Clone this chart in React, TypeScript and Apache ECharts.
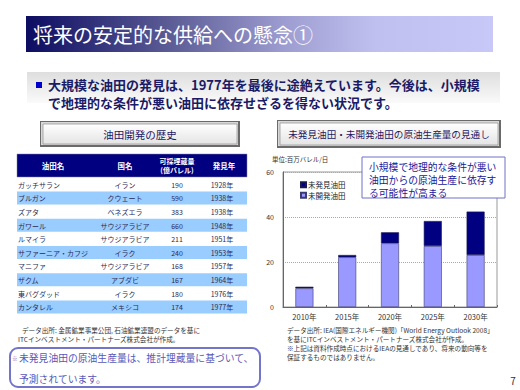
import React, { useEffect, useRef } from "react";
import * as echarts from "echarts";

const FF = '"Noto Sans CJK JP", "Noto Sans", sans-serif';

const categories = ["2010年", "2015年", "2020年", "2025年", "2030年"];
const undevelopedFields = [8.3, 22.1, 28.3, 27.1, 23.1]; // 未開発油田
const undiscoveredFields = [0.7, 1.0, 4.9, 11.1, 19.3]; // 未発見油田
const yTicks = [0, 20, 40, 60];

const fieldNames = ["ガッチサラン", "ブルガン", "ズアタ", "ガワール", "ルマイラ", "サファーニア・カフジ", "マニファ", "ザクム", "東バグダッド", "カンタレル"];
const countries = ["イラン", "クウェート", "ベネズエラ", "サウジアラビア", "サウジアラビア", "イラク", "サウジアラビア", "アブダビ", "イラク", "メキシコ"];
const reserves = [190, 590, 383, 660, 211, 240, 168, 167, 180, 174];
const discoveryYears = ["1928年", "1938年", "1938年", "1948年", "1951年", "1953年", "1957年", "1964年", "1976年", "1977年"];

function txt(text: string, x: number, y: number, size: number, fill: string, extra: any = {}, z = 5): any {
  return {
    type: "text",
    z,
    style: { text, x, y, fontSize: size, fontFamily: FF, fill, align: "left", verticalAlign: "middle", lineHeight: size, ...extra },
  };
}

function bevelBox(x: number, y: number, w: number, h: number): any[] {
  return [
    { type: "rect", z: 1, shape: { x, y, width: w, height: h }, style: { fill: "#6a6a6a" } },
    { type: "rect", z: 1, shape: { x: x + 1, y: y + 1, width: w - 3, height: h - 3 }, style: { fill: "#d8d8d8" } },
    {
      type: "rect", z: 1,
      shape: { x: x + 3, y: y + 3, width: w - 6, height: h - 6 },
      style: {
        fill: { type: "linear", x: 0, y: 0, x2: 0, y2: 1, colorStops: [{ offset: 0, color: "#ffffff" }, { offset: 1, color: "#e4e4e4" }] },
        stroke: "#9a9a9a", lineWidth: 0.8,
      },
    },
  ];
}

export default function App() {
  const ref = useRef<HTMLDivElement>(null);
  useEffect(() => {
    if (!ref.current) return;
    const chart = echarts.init(ref.current, null, { renderer: "svg" });

    const g: any[] = [];
    // Title bar
    g.push({
      type: "rect", z: 1,
      shape: { x: 26, y: 16, width: 467, height: 36 },
      style: {
        fill: {
          type: "linear", x: 0, y: 0, x2: 1, y2: 0,
          colorStops: [
            { offset: 0, color: "#0c0c62" },
            { offset: 0.3, color: "#5a5a94" },
            { offset: 0.55, color: "#9c9cd0" },
            { offset: 0.75, color: "#c0c0f0" },
            { offset: 1, color: "#c8c8f8" },
          ],
        },
      },
    });
    g.push(txt("将来の安定的な供給への懸念①", 33, 34, 20, "#ffffff"));

    // Subtitle band
    g.push({
      type: "rect", z: 1,
      shape: { x: 27, y: 72, width: 473, height: 31 },
      style: {
        fill: { type: "linear", x: 0, y: 0, x2: 0, y2: 1, colorStops: [{ offset: 0, color: "#dedede" }, { offset: 1, color: "#fafafa" }] },
      },
    });
    g.push({ type: "rect", z: 2, shape: { x: 36, y: 82, width: 6, height: 6 }, style: { fill: "#0000cc" } });
    g.push(txt("大規模な油田の発見は、1977年を最後に途絶えています。今後は、小規模", 48, 84.5, 13, "#1a1a66", { fontWeight: "bold" }));
    g.push(txt("で地理的な条件が悪い油田に依存せざるを得ない状況です。", 48, 102.5, 13, "#1a1a66", { fontWeight: "bold" }));

    // Table title
    g.push(...bevelBox(40, 121, 200, 26));
    g.push(txt("油田開発の歴史", 140, 134, 10.5, "#1a1a66", { align: "center" }));

    // Table header
    const tX = 17, tW = 230, hTop = 154, hH = 23, rowH = 13.6;
    const colCenters = [53, 125, 177, 224];
    g.push({ type: "rect", z: 2, shape: { x: tX, y: hTop, width: tW, height: hH }, style: { fill: "#000080", stroke: "#8080a0", lineWidth: 0.5 } });
    g.push(txt("油田名", colCenters[0], hTop + hH / 2, 7.5, "#ffffff", { align: "center", fontWeight: "bold" }));
    g.push(txt("国名", colCenters[1], hTop + hH / 2, 7.5, "#ffffff", { align: "center", fontWeight: "bold" }));
    g.push(txt("可採埋蔵量", colCenters[2], hTop + 7, 7, "#ffffff", { align: "center", fontWeight: "bold" }));
    g.push(txt("(億バレル)", colCenters[2], hTop + 16, 7, "#ffffff", { align: "center", fontWeight: "bold" }));
    g.push(txt("発見年", colCenters[3], hTop + hH / 2, 7.5, "#ffffff", { align: "center", fontWeight: "bold" }));

    fieldNames.forEach((name, i) => {
      const top = hTop + hH + 1 + i * rowH;
      const cy = top + rowH / 2;
      if (i % 2 === 1) {
        g.push({ type: "rect", z: 2, shape: { x: tX, y: top, width: tW, height: rowH - 0.6 }, style: { fill: "#99ccff" } });
      }
      g.push(txt(name, 18, cy, 7, "#2a2a55"));
      g.push(txt(countries[i], colCenters[1], cy, 7, "#2a2a55", { align: "center" }));
      g.push(txt(String(reserves[i]), colCenters[2], cy, 7, "#2a2a55", { align: "center" }));
      g.push(txt(discoveryYears[i], colCenters[3] - 2, cy, 7, "#2a2a55", { align: "center" }));
    });

    // Left sources
    g.push(txt("データ出所: 金属鉱業事業公団, 石油鉱業連盟のデータを基に", 22, 330, 6.6, "#333333"));
    g.push(txt("ITCインベストメント・パートナーズ株式会社が作成。", 18, 339, 6.6, "#333333"));

    // Note box
    g.push({ type: "rect", z: 2, shape: { x: 10, y: 348, width: 250, height: 39, r: 8 }, style: { fill: "#ffffff", stroke: "#7474cc", lineWidth: 2 } });
    g.push(txt("※", 12, 359, 5.5, "#5858b8"));
    g.push(txt("未発見油田の原油生産量は、推計埋蔵量に基づいて、", 19, 358, 9.8, "#5858b8"));
    g.push(txt("予測されています。", 19, 379, 9.8, "#5858b8"));

    // Chart title
    g.push(...bevelBox(277, 120, 224, 28));
    g.push(txt("未発見油田・未開発油田の原油生産量の見通し", 389, 134, 9.6, "#1a1a66", { align: "center" }));
    g.push(txt("単位:百万バレル/日", 272, 159, 6.5, "#333333"));

    // Callout
    g.push({ type: "rect", z: 20, shape: { x: 362, y: 157, width: 143, height: 41 }, style: { fill: "#ffffff", stroke: "#7070c8", lineWidth: 1 } });
    g.push(txt("小規模で地理的な条件が悪い", 369, 167, 9.8, "#20209a", {}, 21));
    g.push(txt("油田からの原油生産に依存す", 369, 180, 9.8, "#20209a", {}, 21));
    g.push(txt("る可能性が高まる", 369, 193, 9.8, "#20209a", {}, 21));

    // Right sources
    g.push(txt("データ出所: IEA(国際エネルギー機関)「World Energy Outlook 2008」", 287, 330, 6.6, "#333333"));
    g.push(txt("を基にITCインベストメント・パートナーズ株式会社が作成。", 287, 339, 6.6, "#333333"));
    g.push(txt("※上記は資料作成時点におけるIEAの見通しであり、将来の動向等を", 287, 348, 6.6, "#333333"));
    g.push(txt("保証するものではありません。", 287, 357, 6.6, "#333333"));

    // Page number
    g.push(txt("7", 513, 380, 10, "#333333", { align: "center" }));

    chart.setOption({
      animation: false,
      backgroundColor: "#ffffff",
      textStyle: { fontFamily: FF },
      graphic: { elements: g },
      legend: {
        data: ["未発見油田", "未開発油田"],
        orient: "vertical",
        left: 300,
        top: 181,
        itemWidth: 5,
        itemHeight: 5,
        itemGap: 3,
        icon: "rect",
        textStyle: { fontSize: 7.5, color: "#222222", fontFamily: FF, padding: [0, 0, 0, -3] },
        padding: 0,
      },
      grid: {
        left: 283, top: 172, width: 214, height: 135,
        show: true, borderColor: "#999999", borderWidth: 1, backgroundColor: "transparent",
      },
      xAxis: {
        type: "category",
        data: categories,
        axisLine: { lineStyle: { color: "#666666" } },
        axisTick: { show: true, inside: true, length: 2, lineStyle: { color: "#666666" } },
        axisLabel: { fontSize: 7.5, color: "#333333", margin: 6, fontFamily: FF },
      },
      yAxis: {
        type: "value",
        min: yTicks[0],
        max: yTicks[yTicks.length - 1],
        interval: 20,
        axisLine: { show: true, lineStyle: { color: "#666666" } },
        axisTick: { show: false },
        axisLabel: { fontSize: 7, color: "#333333", margin: 9, fontFamily: FF },
        splitLine: { lineStyle: { color: "#aaaaaa", type: "dotted" } },
      },
      series: [
        {
          name: "未開発油田",
          type: "bar",
          stack: "total",
          data: undevelopedFields,
          barWidth: 18,
          itemStyle: { color: "#9999ff", borderColor: "#3a3a70", borderWidth: 0.6 },
        },
        {
          name: "未発見油田",
          type: "bar",
          stack: "total",
          data: undiscoveredFields,
          barWidth: 18,
          itemStyle: { color: "#000080", borderColor: "#1a1a50", borderWidth: 0.6 },
        },
      ],
    });
    return () => chart.dispose();
  }, []);
  return <div ref={ref} style={{ position: "fixed", left: 0, top: 0, width: 520, height: 390 }} />;
}
